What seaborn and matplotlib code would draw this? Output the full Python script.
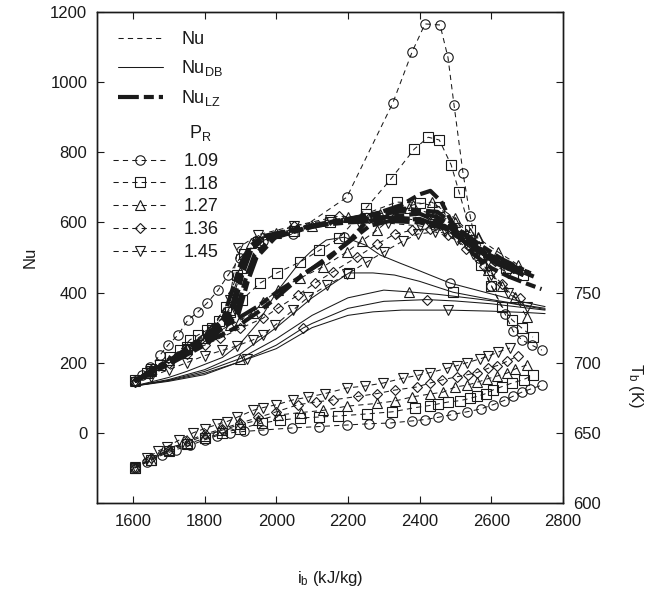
import matplotlib
matplotlib.use("Agg")
import matplotlib.pyplot as plt
from matplotlib.lines import Line2D
from matplotlib.ticker import FuncFormatter
import seaborn as sns

sns.set_theme(style="ticks", rc={"axes.edgecolor": "k", "text.color": "k",
                                 "xtick.color": "k", "ytick.color": "k",
                                 "axes.labelcolor": "k"})
plt.rcParams["font.family"] = ["Liberation Sans", "DejaVu Sans"]
plt.rcParams["mathtext.fontset"] = "custom"
plt.rcParams["mathtext.rm"] = "Liberation Sans"
plt.rcParams["mathtext.it"] = "Liberation Sans:italic"

PR = ["1.09", "1.18", "1.27", "1.36", "1.45"]
MARKERS = ["o", "s", "^", "D", "v"]

# --- Nu experimental (thin dashed + markers), run 1 per P_R
nu_x = [
    [1605, 1625, 1648, 1676, 1698, 1726, 1754, 1782, 1807, 1838, 1866, 1900, 1963, 2047, 2197,
     2325, 2379, 2415, 2457, 2479, 2496, 2521, 2541, 2565, 2600, 2638, 2661, 2685, 2713, 2741],
    [1605, 1640, 1676, 1705, 1732, 1759, 1782, 1807, 1840, 1871, 1904, 1955, 2002, 2066, 2120,
     2175, 2250, 2320, 2385, 2424, 2455, 2488, 2510, 2541, 2570, 2600, 2630, 2658, 2685, 2716],
    [1605, 1650, 1700, 1750, 1800, 1840, 1871, 1900, 1935, 1963, 2005, 2066, 2130, 2197, 2240,
     2281, 2330, 2381, 2434, 2498, 2541, 2563, 2591, 2630, 2666, 2699],
    [1605, 1650, 1700, 1750, 1800, 1843, 1900, 1963, 2005, 2061, 2108, 2158, 2225, 2281, 2331,
     2380, 2430, 2480, 2530, 2580, 2630, 2680],
    [1605, 1650, 1700, 1750, 1800, 1850, 1890, 1935, 1963, 1997, 2047, 2089, 2142, 2197, 2253,
     2300, 2354, 2395, 2443, 2504, 2550, 2600, 2647, 2700],
]
nu_y = [
    [148, 165, 188, 222, 250, 279, 322, 345, 370, 407, 450, 500, 547, 567, 672,
     940, 1086, 1166, 1163, 1071, 935, 741, 618, 500, 420, 340, 290, 265, 250, 236],
    [150, 170, 193, 215, 236, 265, 279, 293, 318, 345, 379, 427, 456, 487, 520,
     555, 640, 724, 809, 843, 835, 764, 687, 578, 480, 420, 360, 322, 299, 273],
    [147, 175, 208, 240, 270, 290, 307, 322, 342, 373, 407, 441, 473, 516, 548,
     578, 620, 650, 658, 612, 570, 558, 464, 420, 387, 330],
    [146, 170, 198, 225, 250, 270, 298, 327, 356, 393, 427, 459, 501, 538, 567,
     578, 582, 565, 525, 475, 425, 385],
    [145, 160, 180, 200, 220, 235, 248, 265, 279, 307, 350, 387, 421, 452, 487,
     516, 547, 567, 573, 550, 510, 450, 399, 360],
]

# --- Nu experimental, run 2 (P_R 1.18 .. 1.45)
nu2_x = [
    [1650, 1750, 1820, 1860, 1890, 1910, 1950, 2050, 2150, 2250, 2336, 2400, 2455, 2520, 2580, 2640, 2689],
    [1650, 1750, 1820, 1870, 1904, 1930, 2000, 2100, 2200, 2290, 2370, 2440, 2500, 2563, 2620, 2675],
    [1650, 1750, 1820, 1880, 1910, 1950, 2050, 2175, 2260, 2331, 2429, 2490, 2550, 2610, 2660],
    [1650, 1750, 1820, 1870, 1893, 1950, 2050, 2150, 2230, 2312, 2400, 2470, 2530, 2590, 2647],
]
nu2_y = [
    [182, 245, 300, 360, 450, 510, 545, 575, 600, 625, 658, 655, 645, 560, 510, 470, 450],
    [180, 242, 298, 350, 470, 540, 570, 590, 615, 625, 640, 625, 600, 555, 515, 479],
    [178, 240, 296, 400, 500, 550, 590, 618, 612, 615, 601, 570, 520, 490, 470],
    [176, 238, 292, 380, 527, 565, 590, 607, 600, 598, 590, 575, 540, 490, 455],
]

# --- Nu_LZ (thick dash-dot)
lz_x = [
    [1605, 1700, 1800, 1850, 1875, 1900, 1925, 1960, 2050, 2150, 2250, 2350, 2400, 2430, 2460,
     2500, 2550, 2600, 2650, 2700, 2740],
    [1605, 1700, 1800, 1870, 1895, 1915, 1950, 2050, 2150, 2250, 2350, 2450, 2500, 2550, 2600, 2650, 2700],
    [1605, 1700, 1800, 1880, 1905, 1930, 1970, 2070, 2170, 2270, 2370, 2450, 2510, 2570, 2630, 2690],
    [1605, 1700, 1800, 1890, 1915, 1940, 1990, 2090, 2190, 2290, 2390, 2470, 2530, 2590, 2650, 2710],
    [1605, 1700, 1800, 1895, 1920, 1945, 2000, 2100, 2200, 2300, 2400, 2480, 2540, 2600, 2660, 2720],
    [1605, 1700, 1800, 1885, 1950, 2000, 2080, 2150, 2206, 2250, 2300, 2400, 2480, 2550, 2620, 2690],
    [1605, 1700, 1800, 1850, 1946, 2000, 2075, 2114, 2192, 2260, 2320, 2400, 2480, 2550, 2620, 2690],
]
lz_y = [
    [148, 200, 265, 320, 400, 480, 530, 560, 580, 600, 615, 650, 680, 690, 660,
     580, 510, 470, 445, 425, 410],
    [148, 205, 275, 340, 430, 505, 545, 575, 600, 620, 640, 630, 590, 540, 500, 470, 450],
    [148, 205, 270, 350, 450, 520, 560, 585, 605, 620, 635, 615, 580, 535, 495, 465],
    [148, 200, 262, 350, 440, 510, 555, 585, 605, 615, 610, 590, 550, 510, 480, 455],
    [148, 198, 255, 340, 430, 500, 560, 590, 600, 605, 600, 580, 540, 500, 470, 445],
    [147, 200, 255, 299, 345, 385, 456, 500, 550, 600, 615, 625, 590, 530, 480, 450],
    [147, 195, 250, 300, 359, 400, 450, 479, 536, 590, 605, 610, 580, 525, 480, 450],
]

# --- Nu_DB (thin solid)
db_x = [
    [1600, 1650, 1700, 1750, 1800, 1850, 1900, 1950, 2000, 2066, 2100, 2140, 2190, 2250, 2290,
     2345, 2400, 2485, 2589, 2680, 2750],
    [1600, 1700, 1800, 1900, 2000, 2100, 2150, 2203, 2270, 2330, 2400, 2493, 2600, 2700, 2750],
    [1600, 1700, 1800, 1900, 2000, 2100, 2200, 2300, 2370, 2450, 2550, 2650, 2750],
    [1600, 1700, 1800, 1900, 2000, 2075, 2100, 2200, 2300, 2420, 2500, 2600, 2700, 2750],
    [1600, 1700, 1800, 1918, 2000, 2075, 2100, 2200, 2270, 2350, 2480, 2600, 2700, 2750],
]
db_y = [
    [133, 145, 158, 175, 195, 215, 255, 315, 400, 487, 520, 550, 558, 535, 507,
     484, 462, 427, 399, 375, 360],
    [133, 152, 180, 225, 300, 385, 420, 456, 456, 450, 432, 401, 380, 363, 355],
    [133, 150, 175, 212, 268, 335, 385, 407, 402, 395, 383, 370, 352],
    [133, 149, 170, 203, 250, 299, 312, 355, 375, 380, 376, 368, 356, 350],
    [133, 147, 166, 210, 240, 285, 300, 335, 345, 350, 350, 347, 343, 340],
]
db_marks = [[12, 17], [7, 11], [3, 8], [5, 9], [3, 10]]

# --- T_b (right axis, thin dashed + markers)
tb_x = [
    [1605, 1640, 1680, 1720, 1759, 1800, 1835, 1871, 1910, 1963, 2044, 2120, 2197, 2260, 2317,
     2379, 2415, 2451, 2490, 2532, 2570, 2604, 2635, 2660, 2685, 2707, 2741],
    [1605, 1650, 1700, 1750, 1800, 1850, 1900, 1960, 2010, 2066, 2120, 2172, 2253, 2324, 2388,
     2428, 2451, 2480, 2513, 2540, 2560, 2585, 2604, 2630, 2658, 2690, 2716],
    [1605, 1650, 1700, 1750, 1800, 1850, 1900, 1950, 2005, 2070, 2130, 2197, 2281, 2331, 2379,
     2429, 2465, 2499, 2532, 2560, 2588, 2616, 2644, 2666, 2699],
    [1605, 1650, 1700, 1750, 1800, 1850, 1900, 1950, 2000, 2060, 2110, 2158, 2228, 2281, 2331,
     2392, 2429, 2462, 2504, 2535, 2560, 2591, 2617, 2644, 2675],
    [1605, 1640, 1670, 1695, 1730, 1768, 1800, 1835, 1862, 1890, 1935, 1963, 2000, 2047, 2089,
     2136, 2197, 2248, 2298, 2354, 2395, 2430, 2476, 2505, 2532, 2568, 2590, 2619, 2652],
]
tb_y = [
    [625, 629, 634, 638, 641, 645, 648, 650, 651, 652, 653.5, 654.5, 655.6, 656.5, 657,
     658.5, 659.5, 661, 663, 665, 667, 670, 673, 676, 679, 681, 684],
    [625, 631, 637, 642, 646, 650, 653, 657, 659, 660.6, 661.3, 662, 663.5, 665, 668,
     669.5, 670.6, 672, 673, 674.5, 676, 678, 680.5, 683, 685.5, 688, 691],
    [625, 631, 638, 643, 648, 652, 656, 659, 662.7, 664.5, 666, 669, 671, 672.7, 675.6,
     677.7, 679, 682.7, 684, 686, 688.4, 690.5, 692.6, 695.5, 698.4],
    [625, 632, 638, 644, 649, 653, 657, 661, 665, 670, 672, 673.5, 676, 678, 680.5,
     682.7, 685.5, 687.7, 690, 691.5, 693, 696, 698, 701, 705],
    [626, 632, 637, 640, 645, 650, 653, 656, 658, 661, 666, 668, 670, 673.5, 675.5,
     678, 682, 683.4, 685.5, 689, 691, 693, 696, 698, 700, 702.7, 704.5, 707.6, 710.5],
]

THIN_DASH = (0, (5, 4))
LZ_DASH = (0, (5, 1.2, 2.4, 1.2))


def draw(ax, x, y, ls, lw, marker=None, ms=6.5, markevery=None):
    kw = dict(color="k", linestyle=ls, linewidth=lw, ax=ax, legend=False,
              sort=False, estimator=None)
    if marker is not None:
        kw.update(marker=marker, markersize=ms, markerfacecolor="none",
                  markeredgecolor="k", markeredgewidth=0.8)
        if markevery is not None:
            kw["markevery"] = markevery
    sns.lineplot(x=x, y=y, **kw)


fig, ax = plt.subplots(figsize=(6.61, 5.9), dpi=100)
fig.subplots_adjust(left=97 / 661, right=563 / 661, top=1 - 12 / 590, bottom=1 - 503 / 590)
ax2 = ax.twinx()

def msize(m):
    return 5.2 if m == "D" else 6.8

for i in range(5):
    m = MARKERS[i]
    draw(ax, db_x[i], db_y[i], "-", 0.75, marker=m, ms=msize(m), markevery=db_marks[i])
for xs, ys in zip(lz_x, lz_y):
    draw(ax, xs, ys, LZ_DASH, 3.0)
for i in range(5):
    m = MARKERS[i]
    draw(ax, nu_x[i], nu_y[i], THIN_DASH, 0.75, marker=m, ms=msize(m))
    draw(ax2, tb_x[i], tb_y[i], THIN_DASH, 0.75, marker=m, ms=msize(m))
for i in range(4):
    m = MARKERS[i + 1]
    draw(ax, nu2_x[i], nu2_y[i], THIN_DASH, 0.75, marker=m, ms=msize(m))

ax.set_xlim(1500, 2800)
ax.set_ylim(-200, 1200)
ax.set_xticks(range(1600, 2801, 200))
ax.set_yticks(range(-200, 1201, 200))
ax.yaxis.set_major_formatter(FuncFormatter(lambda v, p: "" if v < 0 else f"{v:.0f}"))
ax.tick_params(direction="in", length=5, width=0.8, top=True, right=False, labelsize=12)
ax.tick_params(axis="x", pad=8)
ax.tick_params(axis="y", pad=7)

ax2.set_ylim(600, 950)
ax2.set_yticks(range(600, 951, 50))
ax2.yaxis.set_major_formatter(FuncFormatter(lambda v, p: "" if v > 750 else f"{v:.0f}"))
ax2.tick_params(direction="in", length=5, width=0.8, labelsize=12, pad=7)
ax2.grid(False)
ax.grid(False)

for a in (ax, ax2):
    for s in a.spines.values():
        s.set_linewidth(1.0)
        s.set_color("k")

ax.set_xlabel("i$_\\mathrm{b}$ (kJ/kg)", fontsize=12, va="top")
ax.xaxis.set_label_coords(0.5, -0.135)
ax.set_ylabel("Nu", fontsize=12)
ax.yaxis.set_label_coords(-0.128, 0.5)
ax2.set_ylabel("T$_\\mathrm{b}$ (K)", fontsize=12, rotation=270, va="bottom")
ax2.yaxis.set_label_coords(1.135, 0.24)

# legends
h1 = [Line2D([], [], color="k", lw=0.75, ls=THIN_DASH),
      Line2D([], [], color="k", lw=0.75, ls="-"),
      Line2D([], [], color="k", lw=3.0, ls=LZ_DASH)]
leg1 = ax.legend(h1, ["Nu", "Nu$_\\mathrm{DB}$", "Nu$_\\mathrm{LZ}$"], loc="upper left",
                 bbox_to_anchor=(0.045, 0.961), frameon=False, fontsize=13,
                 handlelength=2.5, handletextpad=1.0, labelspacing=0.56,
                 borderpad=0, borderaxespad=0)
ax.add_artist(leg1)

h2 = [Line2D([], [], color="k", lw=0.75, ls=THIN_DASH, marker=m, ms=msize(m),
             mfc="none", mec="k", mew=0.8) for m in MARKERS]
ax.legend(h2, PR, loc="upper left", bbox_to_anchor=(0.034, 0.713), frameon=False,
          fontsize=13, handlelength=3.0, handletextpad=0.9, labelspacing=0.32,
          borderpad=0, borderaxespad=0, numpoints=1)
ax.text(0.197, 0.743, "P$_\\mathrm{R}$", transform=ax.transAxes, fontsize=13,
        ha="left", va="baseline")

fig.savefig("out.png", dpi=100)
